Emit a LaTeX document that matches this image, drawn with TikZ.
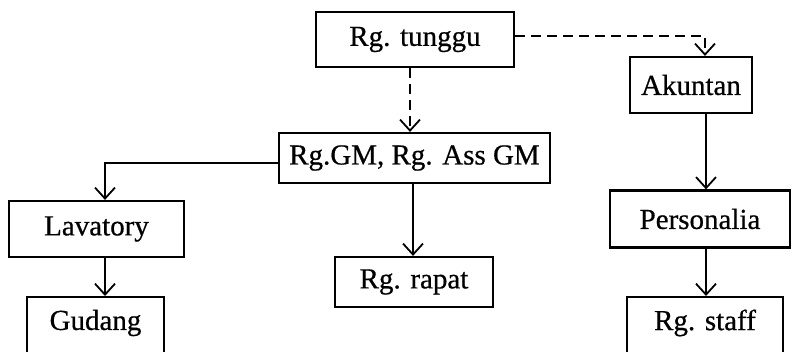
\documentclass[tikz,border=0pt]{standalone}
\usepackage{fontspec}
\setmainfont[FakeBold=0.6]{Liberation Serif}
\usetikzlibrary{arrows.meta}
\begin{document}
\begin{tikzpicture}[x=1pt,y=-1pt,
  room/.style={draw, line width=2.2pt, rectangle, inner sep=0pt, font=\fontsize{29}{31}\selectfont},
  roomtext/.style={inner sep=0pt, font=\fontsize{29}{31}\selectfont},
  link/.style={line width=2pt, -{Straight Barb[length=11pt,width=20pt,line width=1.8pt]}},
  dlink/.style={link, line width=1.4pt, dash pattern=on 10pt off 6pt}]
  \useasboundingbox (0,0) rectangle (793,351);
  \clip (0,0) rectangle (793,351);

  % rooms
  \node[room, minimum width=198pt, minimum height=55pt] (tunggu) at (415,39.5) {Rg. tunggu};
  \node[room, minimum width=122pt, minimum height=56pt] (aku) at (691,85) {Akuntan};
  \node[room, minimum width=271pt, minimum height=50pt] (gm) at (414.5,158) {Rg.GM, Rg. Ass GM};
  \node[room, minimum width=175pt, minimum height=56pt] (lav) at (96.5,229) {Lavatory};
  \node[room, minimum width=158pt, minimum height=50pt] (rapat) at (414,282) {Rg. rapat};
  \node[room, minimum width=180pt, minimum height=57pt] (pers) at (700,219) {Personalia};
  \node[room, minimum width=137pt, minimum height=80pt, anchor=north] (gud) at (95.5,296) {};
  \node[roomtext] (gudtext) at (95.5,323) {Gudang};
  \node[room, minimum width=156pt, minimum height=80pt, anchor=north] (staff) at (705,296) {};
  \node[roomtext] (stafftext) at (705,323) {Rg. staff};

  % circulation
  \draw[dlink] ([xshift=-5pt]tunggu.south) coordinate (d1) -- (d1 |- gm.north);
  \draw[dlink] ([yshift=3.5pt]tunggu.east) -| ([xshift=14pt]aku.north);
  \draw[link] ([yshift=-5pt]gm.west) -| ([xshift=8.5pt]lav.north);
  \draw[link] ([xshift=-1.5pt]gm.south) coordinate (s1) -- (s1 |- rapat.north);
  \draw[link] ([xshift=15pt]aku.south) coordinate (s2) -- (s2 |- pers.north);
  \draw[link] ([xshift=6pt]pers.south) coordinate (s3) -- (s3 |- staff.north);
  \draw[link] ([xshift=8.5pt]lav.south) coordinate (s4) -- (s4 |- gud.north);
\end{tikzpicture}
\end{document}
